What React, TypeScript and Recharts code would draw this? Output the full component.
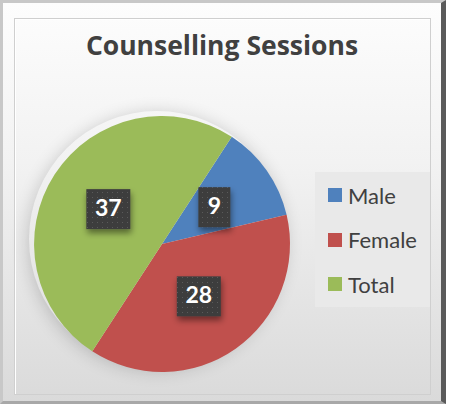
import { PieChart, Pie, Cell, Legend } from 'recharts';

const categories = ['Male', 'Female', 'Total'];
const sessions = [9, 28, 37];
const sliceColors = ['#4F81BD', '#C0504D', '#9BBB59'];

const data = categories.map((name, i) => ({ name, value: sessions[i] }));

const RAD = Math.PI / 180;

function DataLabel(props: any) {
  const { cx, cy, midAngle, outerRadius, value } = props;
  const r = outerRadius * 0.5;
  const x = cx + r * Math.cos(-midAngle * RAD);
  const y = cy + r * Math.sin(-midAngle * RAD);
  const w = String(value).length > 1 ? 44 : 32;
  const h = 40;
  return (
    <g>
      <rect x={x - w / 2} y={y - h / 2} width={w} height={h} fill="url(#dots)" filter="url(#lblShadow)" />
      <text
        x={x}
        y={y + 1}
        textAnchor="middle"
        dominantBaseline="middle"
        fill="#fff"
        fontSize={23}
        fontWeight={700}
        fontFamily="Lato, 'Open Sans', sans-serif"
      >
        {value}
      </text>
    </g>
  );
}

function LegendBox() {
  return (
    <div
      style={{
        width: 115,
        height: 135,
        background: '#e9e9e9',
        paddingTop: 1,
        boxSizing: 'border-box',
        fontFamily: "Lato, 'Open Sans', sans-serif",
      }}
    >
      {categories.map((c, i) => (
        <div key={c} style={{ display: 'flex', alignItems: 'center', height: 44.5, paddingLeft: 13 }}>
          <div style={{ width: 14, height: 14, background: sliceColors[i], marginRight: 6 }} />
          <span style={{ fontSize: 22, color: '#404040' }}>{c}</span>
        </div>
      ))}
    </div>
  );
}

export default function App() {
  return (
    <div style={{ position: 'absolute', left: 0, top: 0, width: 449, height: 404, background: '#fff' }}>
      <svg width={0} height={0} style={{ position: 'absolute' }}>
        <defs>
          <pattern id="dots" width={5} height={5} patternUnits="userSpaceOnUse">
            <rect width={5} height={5} fill="#3c3c3c" />
            <rect x={2} y={2} width={1} height={1} fill="#5a5a5a" />
          </pattern>
          <filter id="lblShadow" x="-30%" y="-30%" width="170%" height="180%">
            <feDropShadow dx={1} dy={4} stdDeviation={3} floodColor="#000" floodOpacity={0.45} />
          </filter>
        </defs>
      </svg>
      {/* bevelled frame */}
      <div
        style={{
          position: 'absolute',
          left: 0,
          top: 0,
          width: 446,
          height: 404,
          boxSizing: 'border-box',
          borderTop: '3px solid #c8c8c8',
          borderLeft: '3px solid #c8c8c8',
          borderRight: '5px solid #5a5a5a',
          borderBottom: '3px solid #a8a8a8',
          background: 'linear-gradient(to bottom, #fdfdfd 0%, #f2f2f2 40%, #dadada 100%)',
        }}
      />
      <div
        style={{
          position: 'absolute',
          left: 14,
          top: 18,
          width: 417,
          height: 377,
          boxSizing: 'border-box',
          border: '1px solid #cfcfcf',
          boxShadow: 'inset 1px 1px 0 #ffffff',
        }}
      />
      {/* soft glow behind the pie */}
      <div
        style={{
          position: 'absolute',
          left: 29,
          top: 111,
          width: 256,
          height: 256,
          borderRadius: '50%',
          boxShadow: '0 3px 18px rgba(0,0,0,0.2)',
        }}
      />
      <div
        style={{
          position: 'absolute',
          left: 0,
          top: 27,
          width: 444,
          textAlign: 'center',
          fontFamily: "'Open Sans', Lato, sans-serif",
          fontWeight: 700,
          fontSize: 26.5,
          color: '#404040',
        }}
      >
        Counselling Sessions
      </div>
      <div style={{ position: 'absolute', left: 0, top: 0 }}>
        <PieChart width={449} height={404}>
          <Pie
            data={data}
            dataKey="value"
            nameKey="name"
            cx={157}
            cy={239}
            outerRadius={128}
            startAngle={57}
            endAngle={-303}
            stroke="none"
            label={DataLabel}
            labelLine={false}
            isAnimationActive={false}
          >
            {data.map((d, i) => (
              <Cell key={d.name} fill={sliceColors[i]} />
            ))}
          </Pie>
          <Legend
            layout="vertical"
            content={() => <LegendBox />}
            wrapperStyle={{ position: 'absolute', left: 315, top: 172, width: 115 }}
          />
        </PieChart>
      </div>
    </div>
  );
}
